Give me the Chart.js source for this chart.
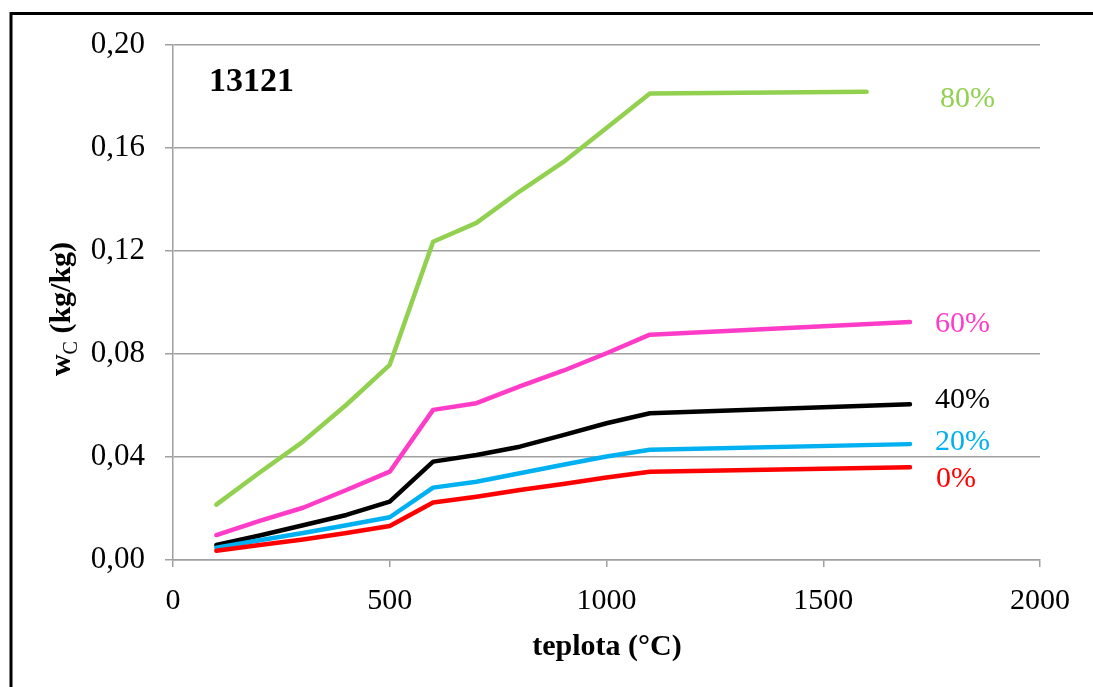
<!DOCTYPE html>
<html>
<head>
<meta charset="utf-8">
<script src="https://cdn.jsdelivr.net/npm/chart.js@4"></script>
<style>
html,body{margin:0;padding:0;background:#fff;}
#wrap{position:relative;width:1093px;height:687px;}
</style>
</head>
<body>
<div id="wrap"><canvas id="c" width="1093" height="687"></canvas></div>
<script>
// temperatures (°C)
const temps = [100, 200, 300, 400, 500, 600, 700, 800, 900, 1000, 1100, 1700];
const temps80 = [100, 200, 300, 400, 500, 600, 700, 800, 900, 1000, 1100, 1600];
// w_C (kg/kg) for each moisture level
const s0  = [0.0036, 0.0058, 0.0080, 0.0105, 0.0132, 0.0223, 0.0246, 0.0272, 0.0295, 0.0320, 0.0343, 0.0360];
const s20 = [0.0048, 0.0077, 0.0105, 0.0135, 0.0166, 0.0281, 0.0304, 0.0337, 0.0370, 0.0402, 0.0428, 0.0450];
const s40 = [0.0058, 0.0095, 0.0135, 0.0175, 0.0227, 0.0382, 0.0408, 0.0440, 0.0485, 0.0531, 0.0570, 0.0605];
const s60 = [0.0097, 0.0152, 0.0203, 0.0272, 0.0343, 0.0583, 0.0609, 0.0674, 0.0735, 0.0803, 0.0875, 0.0924];
const s80 = [0.0215, 0.0340, 0.0460, 0.0603, 0.0758, 0.1236, 0.1309, 0.1432, 0.1545, 0.1678, 0.1812, 0.1818];
const seriesNames = ['0%', '20%', '40%', '60%', '80%'];
const seriesColors = ['#FF0000', '#00B0F0', '#000000', '#FF3CC8', '#92D050'];
const yTicks = [0, 0.04, 0.08, 0.12, 0.16, 0.20];
const xTicks = [0, 500, 1000, 1500, 2000];
const chartTitle = '13121';
const xTitle = 'teplota (°C)';

const pts = (xs, ys) => xs.map((x, i) => ({x: x, y: ys[i]}));
const allData = [pts(temps, s0), pts(temps, s20), pts(temps, s40), pts(temps, s60), pts(temps80, s80)];

const FONT = '"Liberation Serif", "Times New Roman", serif';

const labelPos = [
  {x: 936, y: 487}, {x: 935, y: 450}, {x: 935, y: 408}, {x: 935, y: 332}, {x: 940, y: 107}
];

const deco = {
  id: 'deco',
  afterDraw(chart) {
    const ctx = chart.ctx;
    ctx.save();
    // outer frame
    ctx.strokeStyle = '#000';
    ctx.lineWidth = 3;
    ctx.beginPath();
    ctx.moveTo(11, 687);
    ctx.lineTo(11, 13.5);
    ctx.lineTo(1093, 13.5);
    ctx.stroke();
    // chart title
    ctx.fillStyle = '#000';
    ctx.font = 'bold 34px ' + FONT;
    ctx.textAlign = 'left';
    ctx.textBaseline = 'alphabetic';
    ctx.fillText(chartTitle, 209, 91);
    // x title
    ctx.font = 'bold 30px ' + FONT;
    ctx.textAlign = 'center';
    ctx.fillText(xTitle, 607, 655);
    // y title with subscript
    ctx.translate(70, 309);
    ctx.rotate(-Math.PI / 2);
    const p1 = 'w', p2 = 'C', p3 = ' (kg/kg)';
    ctx.font = 'bold 30px ' + FONT;
    const w1 = ctx.measureText(p1).width;
    const w3 = ctx.measureText(p3).width;
    ctx.font = '20px ' + FONT;
    const w2 = ctx.measureText(p2).width;
    let x0 = -(w1 + w2 + w3) / 2;
    ctx.textAlign = 'left';
    ctx.font = 'bold 30px ' + FONT;
    ctx.fillText(p1, x0, 0);
    ctx.font = '20px ' + FONT;
    ctx.fillText(p2, x0 + w1, 7);
    ctx.font = 'bold 30px ' + FONT;
    ctx.fillText(p3, x0 + w1 + w2, 0);
    ctx.setTransform(1, 0, 0, 1, 0, 0);
    // series labels
    ctx.font = '30px ' + FONT;
    ctx.textAlign = 'left';
    seriesNames.forEach((n, i) => {
      ctx.fillStyle = seriesColors[i];
      ctx.fillText(n, labelPos[i].x, labelPos[i].y);
    });
    ctx.restore();
  }
};

new Chart(document.getElementById('c'), {
  type: 'line',
  data: {
    datasets: allData.map((d, i) => ({
      label: seriesNames[i],
      data: d,
      borderColor: seriesColors[i],
      backgroundColor: seriesColors[i],
      borderWidth: 4.5,
      pointRadius: 0,
      tension: 0,
      fill: false,
      borderCapStyle: 'round',
      borderJoinStyle: 'round'
    }))
  },
  options: {
    responsive: false,
    animation: false,
    events: [],
    layout: {padding: {top: 45, right: 53, left: 0, bottom: 0}},
    plugins: {legend: {display: false}, tooltip: {enabled: false}, title: {display: false}},
    scales: {
      x: {
        type: 'linear',
        min: 0, max: 2000,
        afterFit(s) { s.height = 127; },
        afterBuildTicks(s) { s.ticks = xTicks.map(v => ({value: v})); },
        grid: {drawOnChartArea: false, drawTicks: true, tickLength: 7, color: '#a0a0a0', lineWidth: 1.5},
        border: {display: true, color: '#a0a0a0', width: 1.5},
        ticks: {color: '#000', font: {family: FONT, size: 30}, padding: 16, maxRotation: 0,
          callback: v => String(v)}
      },
      y: {
        min: 0, max: 0.2,
        afterFit(s) { s.width = 173; },
        afterBuildTicks(s) { s.ticks = yTicks.map(v => ({value: v})); },
        grid: {drawOnChartArea: true, drawTicks: true, tickLength: 8, color: '#a0a0a0', lineWidth: 1.5},
        border: {display: true, color: '#a0a0a0', width: 1.5},
        ticks: {color: '#000', font: {family: FONT, size: 31}, padding: 20,
          callback: v => v.toFixed(2).replace('.', ',')}
      }
    }
  },
  plugins: [deco]
});
</script>
</body>
</html>
